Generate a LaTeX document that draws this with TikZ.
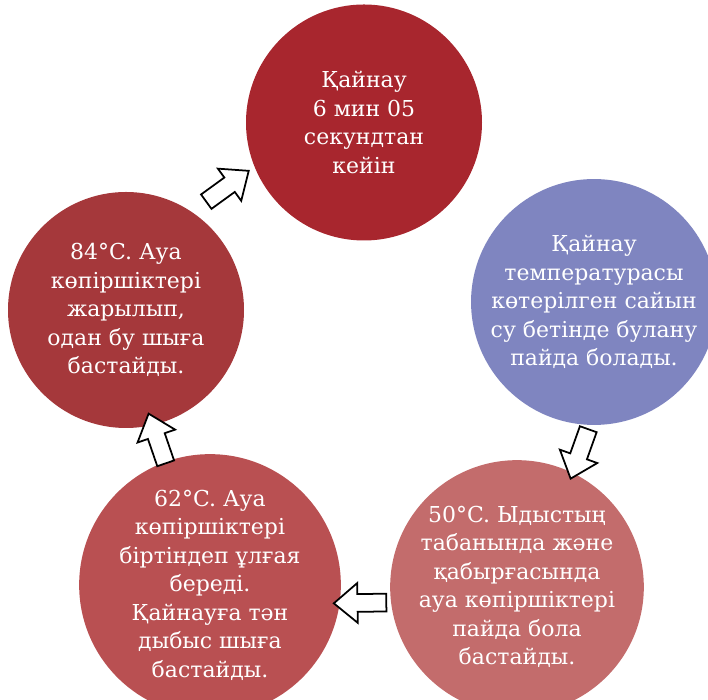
\documentclass[tikz,border=0pt]{standalone}
\usepackage{fontspec}
\setmainfont{DejaVu Serif}
\usetikzlibrary{shapes.arrows}

\definecolor{boilred}{RGB}{168,38,46}
\definecolor{burstred}{RGB}{165,56,59}
\definecolor{growred}{RGB}{185,80,82}
\definecolor{bubblered}{RGB}{195,108,108}
\definecolor{steamblue}{RGB}{127,133,192}

\begin{document}
\begin{tikzpicture}[
    stage/.style={circle, fill=#1, text=white, align=center, inner sep=0pt,
        font=\fontsize{12.5}{16.2}\selectfont},
    stepto/.style={single arrow, draw=black, fill=white, line width=1pt,
        minimum height=1.05cm, inner sep=0.16cm,
        single arrow head extend=0.22cm, single arrow tip angle=80,
        midway, sloped, allow upside down}
    ]
        \useasboundingbox (0,0) rectangle (14.16,14);
        \node [stage=boilred, minimum size=4.72cm] (boil) at (7.28,11.55)
            {Қайнау\\6 мин 05\\секундтан\\кейін};
        \node [stage=steamblue, minimum size=4.56cm] (steam) at (11.88,7.96)
            {Қайнау\\температурасы\\көтерілген сайын\\су бетінде булану\\пайда болады.};
        \node [stage=bubblered, minimum size=4.8cm] (deg50) at (10.34,2.26)
            {50°C. Ыдыстың\\табанында және\\қабырғасында\\ауа көпіршіктері\\пайда бола\\бастайды.};
        \node [stage=growred, minimum size=4.72cm] (deg62) at (4.2,2.3)
            {62°C. Ауа\\көпіршіктері\\біртіндеп ұлғая\\береді.\\Қайнауға тән\\дыбыс шыға\\бастайды.};
        \node [stage=burstred, minimum size=4.72cm] (deg84) at (2.52,7.8)
            {84°C. Ауа\\көпіршіктері\\жарылып,\\одан бу шыға\\бастайды.};
        \path (steam.268) -- (deg50.64) node [stepto] (a1) {};
        \path (deg50.187) -- (deg62.-8) node [stepto] (a2) {};
        \path (deg62.110) -- (deg84.-77) node [stepto] (a3) {};
        \path (deg84.56) -- (boil.202) node [stepto] (a4) {};
    \end{tikzpicture}
\end{document}
